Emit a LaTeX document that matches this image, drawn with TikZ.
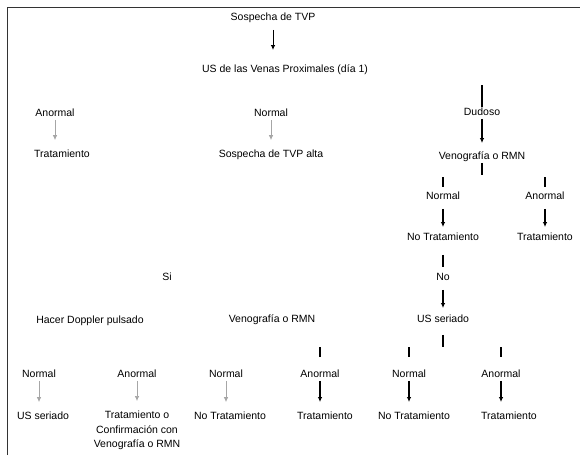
\documentclass[tikz,border=0pt]{standalone}
\usepackage{fontspec}
\setmainfont{Liberation Sans}
\usetikzlibrary{positioning,arrows.meta}

\begin{document}
\begin{tikzpicture}[%
	x=1pt,
	y=-1pt,
	font=\fontsize{10.5}{14.5}\selectfont,
	every node/.style={inner sep=1pt},
	>={Latex[length=5pt,width=4.5pt]},
	txt/.style={%
		text height=7.5pt,
		text depth=2pt
	},
	lnk/.style={%
		->,
		line width=1.3pt,
		black
	},
	soft/.style={%
		->,
		line width=0.7pt,
		gray!70
	},
	stub/.style={%
		line width=1.3pt,
		black
	}
	]
	\useasboundingbox (0,0) rectangle (580,455);
	% frame
	\draw[line width=1pt, black!80] (7,455) -- (7,7) -- (580,7);

	\node[txt] (sospecha) at (273,18) {Sospecha de TVP};
	\node[txt] (usprox) at (285,70) {US de las Venas Proximales (día 1)};
	% first results
	\node[txt] (an1) at (55,114) {Anormal};
	\node[txt] (tr1) at (62,155) {Tratamiento};
	\node[txt] (no1) at (271,114) {Normal};
	\node[txt] (alta) at (271,155) {Sospecha de TVP alta};
	\node[txt] (dud) at (482,113) {Dudoso};
	\node[txt] (ven1) at (482,157) {Venografía o RMN};
	\node[txt] (no2) at (443,197) {Normal};
	\node[txt] (ntr2) at (443,238) {No Tratamiento};
	\node[txt] (an2) at (545,197) {Anormal};
	\node[txt] (tr2) at (545,238) {Tratamiento};
	\node[txt] (no) at (443,278) {No};
	\node[txt] (usser) at (443,320) {US seriado};
	% high suspicion
	\node[txt] (si) at (167,278) {Si};
	\node[txt] (dop) at (90,321) {Hacer Doppler pulsado};
	\node[txt] (ven2) at (272,320) {Venografía o RMN};
	% last results
	\node[txt] (no4) at (39,375) {Normal};
	\node[txt] (us4) at (43,417) {US seriado};
	\node[txt] (an4) at (137,375) {Anormal};
	\node[align=center, anchor=north] (conf) at (137,410) {Tratamiento o\\Confirmación con\\Venografía o RMN};
	\node[txt] (no5) at (226,375) {Normal};
	\node[txt] (ntr5) at (230,417) {No Tratamiento};
	\node[txt] (an5) at (320,375) {Anormal};
	\node[txt] (tr5) at (325,417) {Tratamiento};
	\node[txt] (no3) at (409,375) {Normal};
	\node[txt] (ntr3) at (414,417) {No Tratamiento};
	\node[txt] (an3) at (501,375) {Anormal};
	\node[txt] (tr3) at (509,417) {Tratamiento};

	\coordinate (c1) at (482,85);
	\coordinate (c2) at (482,175);
	\coordinate (c3) at (443,177);
	\coordinate (c4) at (545,177);
	\coordinate (c5) at (443,347);
	\coordinate (c6) at (409,347);
	\coordinate (c7) at (501,347);
	\coordinate (c8) at (320,347);

	\draw[lnk, line width=0.9pt, shorten <=6pt, shorten >=14pt] (sospecha.south) -- (sospecha.south |- usprox.north);
	\draw[soft, shorten >=9pt] (an1.south) -- (an1.south |- tr1.north);
	\draw[soft, shorten >=9pt] (no1.south) -- (no1.south |- alta.north);
	\draw[stub] (c1) -- (dud);
	\draw[lnk, shorten >=8pt] (dud) -- (ven1);
	\draw[stub] (ven1) -- (c2);
	\draw[stub, shorten >=4pt] (c3) -- (no2);
	\draw[stub, shorten >=4pt] (c4) -- (an2);
	\draw[lnk, shorten <=6pt, shorten >=5pt] (no2) -- (ntr2);
	\draw[lnk, shorten <=6pt, shorten >=5pt] (an2) -- (tr2);
	\draw[stub, shorten <=11pt, shorten >=5pt] (ntr2) -- (no);
	\draw[lnk, shorten <=6pt, shorten >=6pt] (no) -- (usser);
	\draw[stub, shorten <=9pt] (usser) -- (c5);
	\draw[stub, shorten >=12pt] (c6) -- (no3);
	\draw[stub, shorten >=12pt] (c7) -- (an3);
	\draw[stub, shorten >=12pt] (c8) -- (an5);
	\draw[soft, shorten >=9pt] (no4.south) -- (no4.south |- us4.north);
	\draw[soft, shorten >=9pt] (an4.south) -- (an4.south |- conf.north);
	\draw[soft, shorten >=9pt] (no5.south) -- (no5.south |- ntr5.north);
	\draw[lnk, shorten >=9pt] (an5.south) -- (an5.south |- tr5.north);
	\draw[lnk, shorten >=9pt] (no3.south) -- (no3.south |- ntr3.north);
	\draw[lnk, shorten >=9pt] (an3.south) -- (an3.south |- tr3.north);
\end{tikzpicture}
\end{document}
